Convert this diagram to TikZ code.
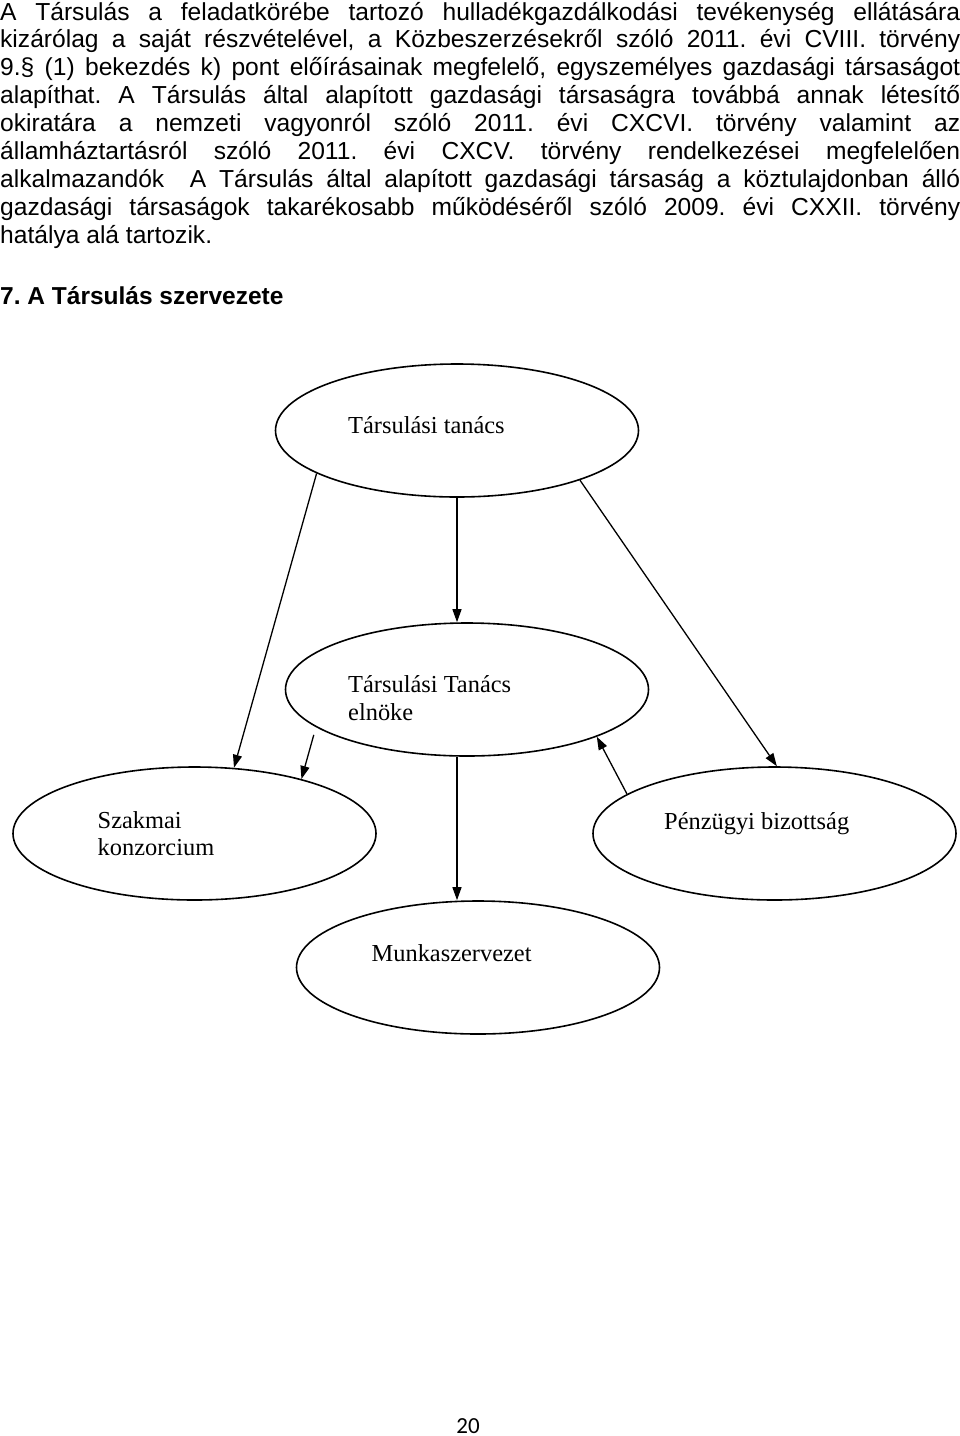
\documentclass[tikz,border=0pt]{standalone}
\usepackage{fontspec}
\setmainfont{Liberation Serif}
\newfontfamily\arialf{Liberation Sans}
\newfontfamily\calib{Carlito}
\usetikzlibrary{shapes.geometric,arrows.meta}
\frenchspacing
\begin{document}
\begin{tikzpicture}[x=1pt,y=-1pt,
  ell/.style={draw, ellipse, line width=1.6pt, minimum width=363pt, minimum height=133pt, inner sep=0pt},
  lbl/.style={anchor=base west, inner sep=0pt, font=\fontsize{24.4}{28}\selectfont},
  body/.style={anchor=base west, inner sep=0pt, font=\arialf\fontsize{24.6}{27.9}\selectfont},
  head/.style={anchor=base west, inner sep=0pt, font=\arialf\bfseries\fontsize{24.5}{27.9}\selectfont},
  conn/.style={line width=1.3pt, -{Triangle[length=13pt,width=9pt]}}]
\useasboundingbox (0,0) rectangle (960,1436);
% paragraph
\node[body] (p1) at (0,20) {\makebox[960pt][s]{A Társulás a feladatkörébe tartozó hulladékgazdálkodási tevékenység ellátására}};
\node[body] (p2) at (0,47.9) {\makebox[960pt][s]{kizárólag a saját részvételével, a Közbeszerzésekről szóló 2011. évi CVIII. törvény}};
\node[body] (p3) at (0,75.8) {\makebox[960pt][s]{9.§ (1) bekezdés k) pont előírásainak megfelelő, egyszemélyes gazdasági társaságot}};
\node[body] (p4) at (0,103.7) {\makebox[960pt][s]{alapíthat. A Társulás által alapított gazdasági társaságra továbbá annak létesítő}};
\node[body] (p5) at (0,131.6) {\makebox[960pt][s]{okiratára a nemzeti vagyonról szóló 2011. évi CXCVI. törvény valamint az}};
\node[body] (p6) at (0,159.5) {\makebox[960pt][s]{államháztartásról szóló 2011. évi CXCV. törvény rendelkezései megfelelően}};
\node[body] (p7) at (0,187.4) {\makebox[960pt][s]{alkalmazandók\ \ A Társulás által alapított gazdasági társaság a köztulajdonban álló}};
\node[body] (p8) at (0,215.3) {\makebox[960pt][s]{gazdasági társaságok takarékosabb működéséről szóló 2009. évi CXXII. törvény}};
\node[body] (p9) at (0,243.2) {hatálya alá tartozik.};
\node[head] (h7) at (0,304) {7. A Társulás szervezete};
% ellipses
\node[ell] (tanacs) at (457,430.5) {};
\node[ell] (elnoke) at (467,689.5) {};
\node[ell] (szakmai) at (194.5,833.5) {};
\node[ell] (penz) at (774.5,833.5) {};
\node[ell] (munka) at (478,967.5) {};
% labels
\node[lbl] (t1) at (348,433) {Társulási tanács};
\node[lbl] (t2) at (348,692) {Társulási Tanács};
\node[lbl] (t3) at (348,720) {elnöke};
\node[lbl] (t4) at (97.5,828.5) {Szakmai};
\node[lbl] (t5) at (97.5,855.5) {konzorcium};
\node[lbl] (t6) at (664,829) {Pénzügyi bizottság};
\node[lbl] (t7) at (371.5,961) {Munkaszervezet};
% connectors
\draw[conn] (tanacs.197) -- (szakmai.59);
\draw[conn] (tanacs.south) -- (tanacs.south |- elnoke.north);
\draw[conn] (tanacs.338) -- (penz.88);
\draw[conn, shorten <=8pt] (elnoke.194) -- (szakmai.27);
\draw[conn] (penz.165) -- (elnoke.340);
\draw[conn] (tanacs.south |- elnoke.south) -- (tanacs.south |- munka.north);
% page number
\node[anchor=base, inner sep=0pt, font=\calib\fontsize{23}{27}\selectfont] (pg) at (468,1433) {20};
\end{tikzpicture}
\end{document}
